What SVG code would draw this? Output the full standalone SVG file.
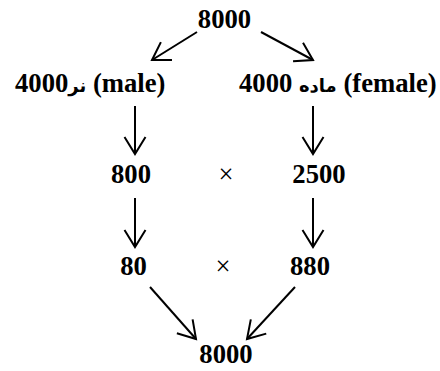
<svg xmlns="http://www.w3.org/2000/svg" width="440" height="371" viewBox="0 0 440 371">
<defs>
<style>
.t{font-family:"Liberation Serif","DejaVu Sans",serif;font-weight:bold;font-size:26.67px;fill:#000}
.ar{font-family:"DejaVu Sans",sans-serif;font-weight:bold;font-size:18px}
.x{font-family:"Liberation Serif",serif;font-weight:normal;font-size:26.67px;fill:#000}
.c{fill:none;stroke:#000;stroke-width:2}
</style>
<marker id="ah" markerUnits="userSpaceOnUse" viewBox="-20 -12 22 24" refX="0" refY="0" markerWidth="22" markerHeight="24" orient="auto" overflow="visible">
<path d="M-17,-10.5 L0,0 L-17,10.5" fill="none" stroke="#000" stroke-width="2"/>
</marker>
</defs>
<rect width="440" height="371" fill="#fff"/>
<g id="connectors">
<line class="c" x1="197" y1="32" x2="152" y2="60" marker-end="url(#ah)"/>
<line class="c" x1="261" y1="32" x2="313" y2="60" marker-end="url(#ah)"/>
<line class="c" x1="135" y1="106" x2="135" y2="154" marker-end="url(#ah)"/>
<line class="c" x1="313" y1="106" x2="313" y2="154" marker-end="url(#ah)"/>
<line class="c" x1="135" y1="198" x2="135" y2="247" marker-end="url(#ah)"/>
<line class="c" x1="313" y1="198" x2="313" y2="247" marker-end="url(#ah)"/>
<line class="c" x1="150" y1="287" x2="196" y2="339" marker-end="url(#ah)"/>
<line class="c" x1="295" y1="287" x2="247" y2="339" marker-end="url(#ah)"/>
</g>
<g id="n-top"><text class="t" x="224.5" y="28" text-anchor="middle">8000</text></g>
<g id="n-male"><text class="t" x="15" y="92">4000<tspan class="ar">نر</tspan> (male)</text></g>
<g id="n-female"><text class="t" x="239" y="92">4000 <tspan class="ar">ماده</tspan> (female)</text></g>
<g id="n-800"><text class="t" x="131" y="183" text-anchor="middle">800</text></g>
<g id="n-x1"><text class="x" x="226" y="183" text-anchor="middle">×</text></g>
<g id="n-2500"><text class="t" x="319" y="183" text-anchor="middle">2500</text></g>
<g id="n-80"><text class="t" x="133.5" y="275" text-anchor="middle">80</text></g>
<g id="n-x2"><text class="x" x="223" y="275" text-anchor="middle">×</text></g>
<g id="n-880"><text class="t" x="310" y="275" text-anchor="middle">880</text></g>
<g id="n-bottom"><text class="t" x="226" y="363" text-anchor="middle">8000</text></g>
</svg>
